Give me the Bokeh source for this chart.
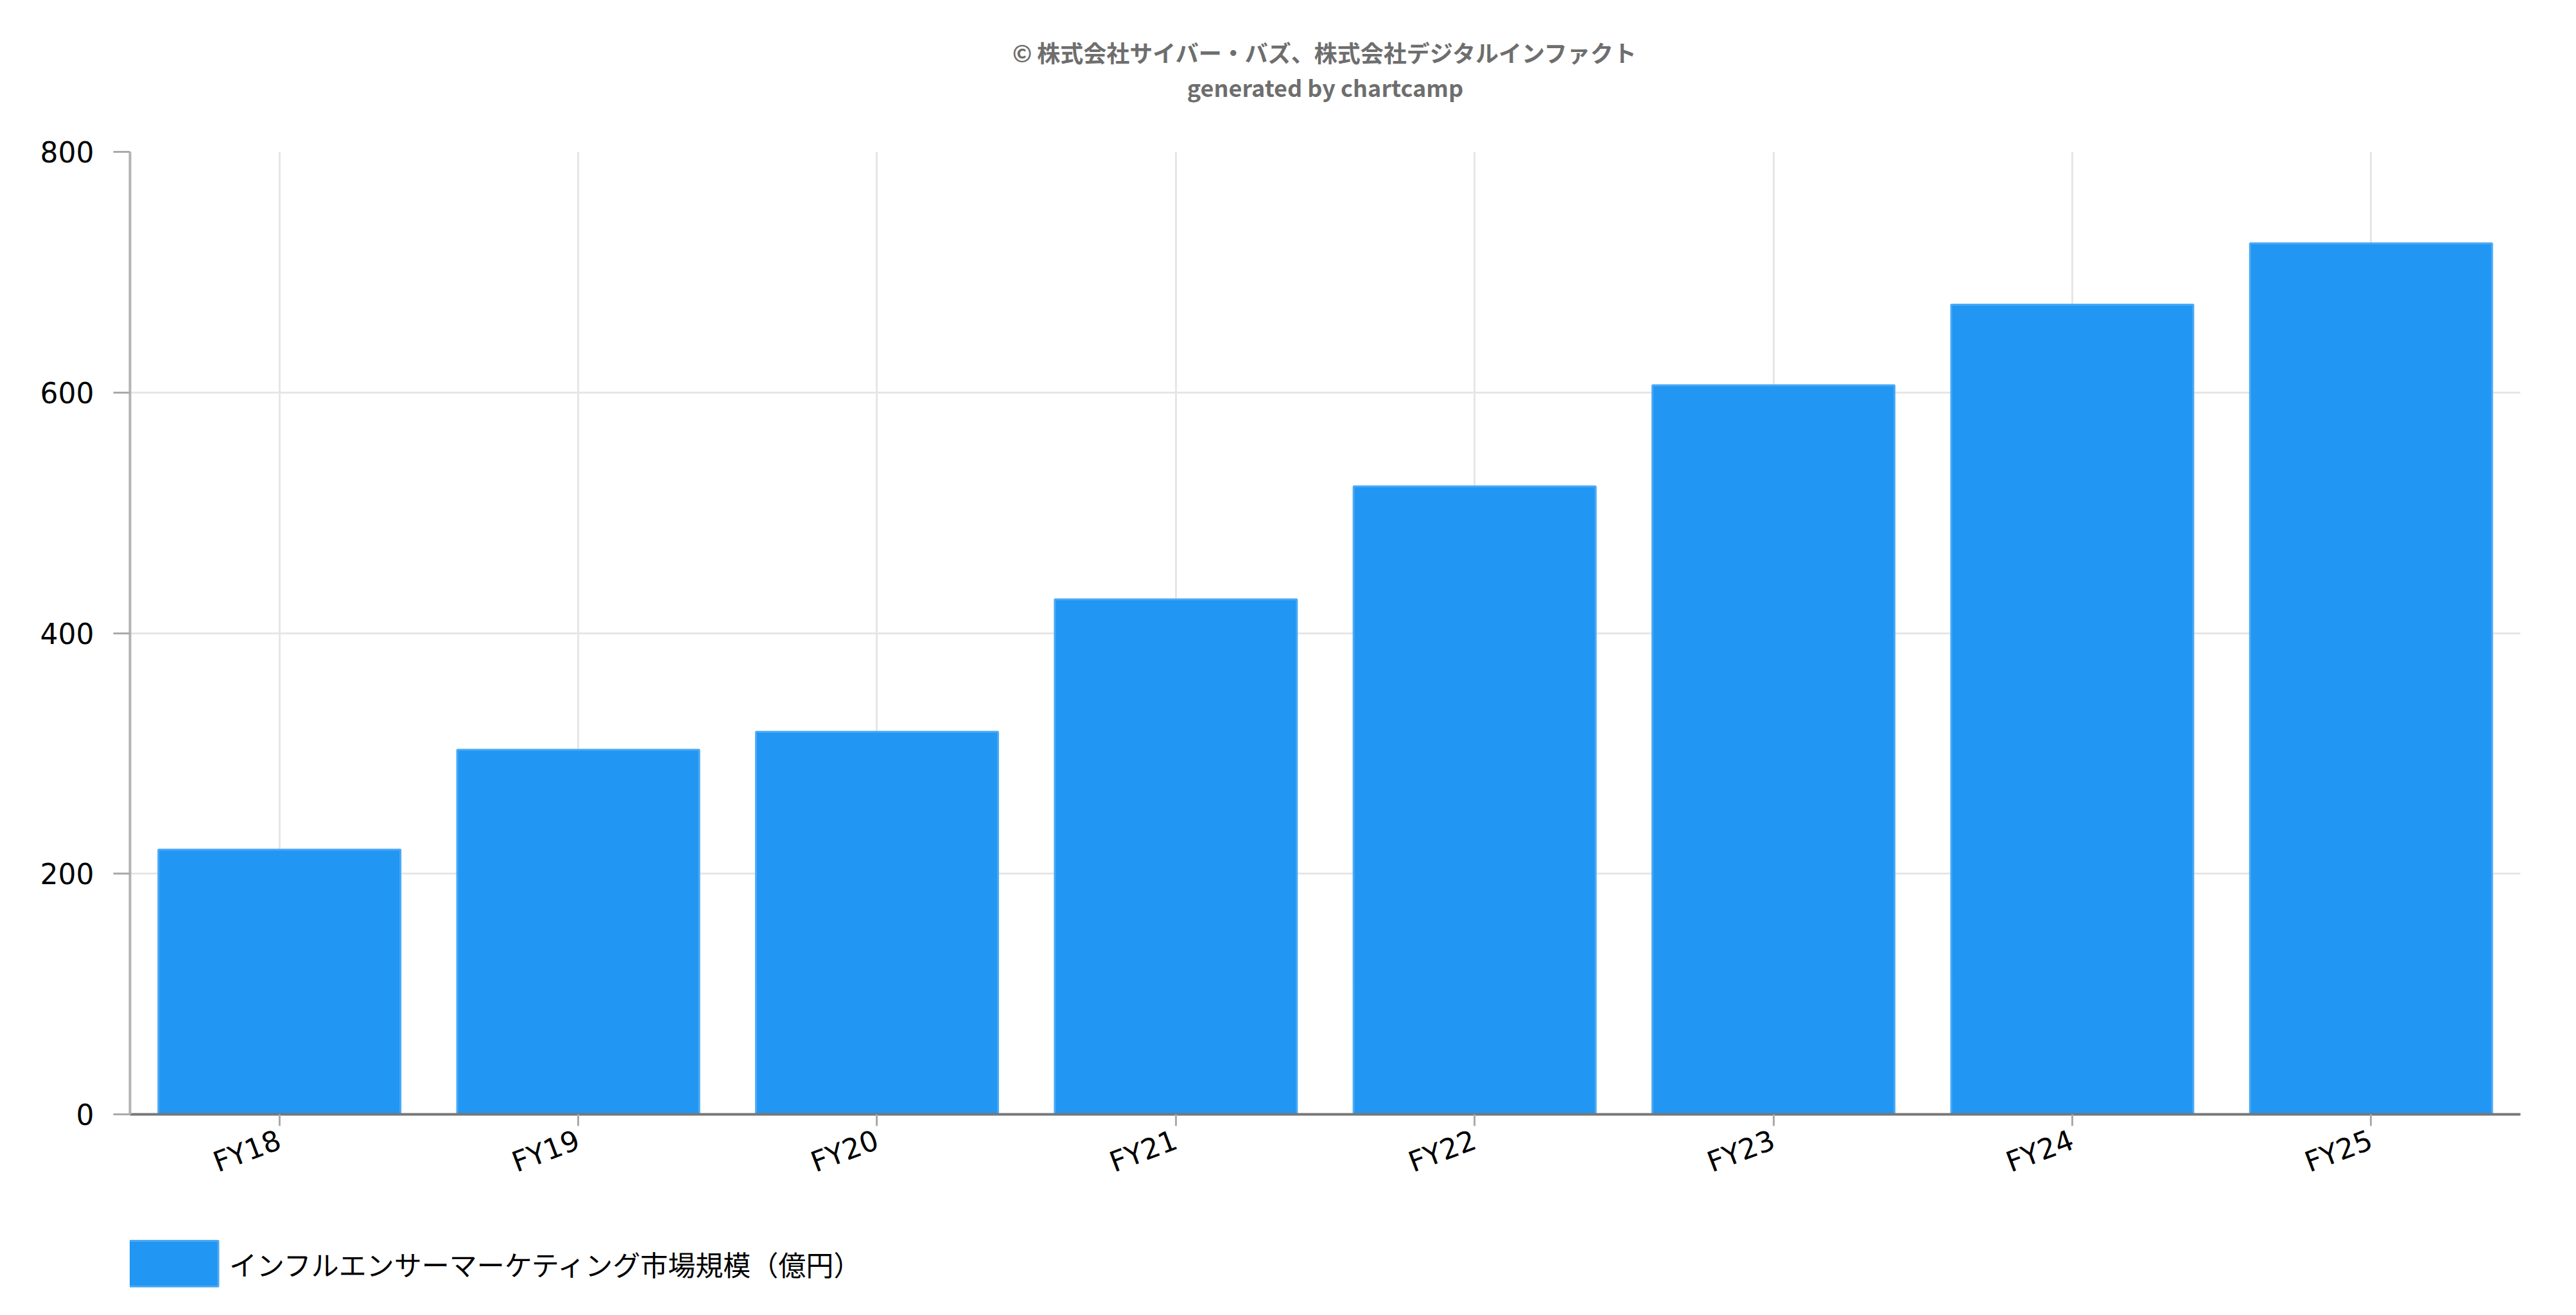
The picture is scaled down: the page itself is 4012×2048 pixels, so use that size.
from bokeh.plotting import figure
from bokeh.models import Title, Legend, LegendItem, ColumnDataSource, FixedTicker, Range1d, FactorRange
from bokeh.layouts import column
from bokeh.embed import file_html
from bokeh.resources import INLINE

categories = ["FY18", "FY19", "FY20", "FY21", "FY22", "FY23", "FY24", "FY25"]
market_size = [220, 303, 318, 428, 522, 606, 673, 724]
y_ticks = [0, 200, 400, 600, 800]
series_name = "インフルエンサーマーケティング市場規模（億円）"
credit = "© 株式会社サイバー・バズ、株式会社デジタルインファクト"
generator = "generated by chartcamp"

BAR_FILL = "#2196F3"
BAR_LINE = "#4aa9f5"

W = 3996
H_MAIN, H_LEG = 1880, 152

p = figure(x_range=categories, y_range=Range1d(0, 800), width=W, height=H_MAIN,
           output_backend="svg", toolbar_location=None,
           min_border_left=202, min_border_right=71, min_border_top=236, min_border_bottom=145)
p.outline_line_color = None

src = ColumnDataSource(dict(cat=categories, val=market_size))
r = p.vbar(x="cat", top="val", width=0.81, source=src,
           fill_color=BAR_FILL, line_color=BAR_LINE, line_width=3)

p.xgrid.grid_line_color = "#e6e6e6"
p.xgrid.grid_line_width = 3
p.ygrid.grid_line_color = "#e6e6e6"
p.ygrid.grid_line_width = 3

p.yaxis.ticker = FixedTicker(ticks=y_ticks)
for ax in (p.xaxis[0], p.yaxis[0]):
    ax.major_label_text_font = "DejaVu Sans"
    ax.major_label_text_font_size = "44px"
    ax.major_label_text_color = "#000000"
    ax.major_tick_in = 0
    ax.minor_tick_line_color = None
    ax.major_tick_line_color = "#aaaaaa"
    ax.major_tick_line_width = 3

p.xaxis.axis_line_color = "#777777"
p.xaxis.axis_line_width = 4
p.xaxis.major_tick_out = 18
p.xaxis.major_label_orientation = 0.36
p.xaxis.major_label_standoff = 20

p.yaxis.axis_line_color = "#b3b3b3"
p.yaxis.axis_line_width = 4
p.yaxis.major_tick_out = 26
p.yaxis.major_label_standoff = 30

# heading: a blank spacer next to the frame, then the two centred lines
top_spacer = Title(text=" ", text_font="DejaVu Sans", text_font_size="20px",
                   text_color="#ffffff", standoff=50)
t_gen = Title(text=generator, align="center", text_font="Noto Sans CJK JP",
              text_font_size="36px", text_font_style="bold", text_color="#6e6e6e", standoff=0)
t_credit = Title(text=credit, align="center", text_font="Noto Sans CJK JP",
                 text_font_size="36px", text_font_style="bold", text_color="#6e6e6e", standoff=0)
p.add_layout(top_spacer, "above")
p.add_layout(t_gen, "above")
p.add_layout(t_credit, "above")

# legend strip underneath the chart (key uses the same bar style; its renderer is hidden)
p2 = figure(width=W, height=H_LEG, x_range=FactorRange(factors=categories), y_range=Range1d(-2, -1),
            x_axis_type=None, y_axis_type=None, output_backend="svg",
            toolbar_location=None, min_border=0)
p2.outline_line_color = None
p2.grid.visible = False
r_key = p2.vbar(x="cat", top="val", width=0.81, source=src,
                fill_color=BAR_FILL, line_color=BAR_LINE, line_width=3)
r_key.visible = False
legend = Legend(items=[LegendItem(label=series_name, renderers=[r_key])],
                location=(-20, 20), glyph_width=175, glyph_height=89,
                label_text_font="Noto Sans CJK JP", label_text_font_size="43px",
                label_text_color="#000000", label_standoff=0,
                padding=0, margin=0, spacing=0, click_policy="none",
                inactive_fill_alpha=0,
                border_line_color=None, background_fill_alpha=0)
p2.add_layout(legend)

layout = column(p, p2, spacing=0)
open("out.html", "w").write(file_html(layout, INLINE))
